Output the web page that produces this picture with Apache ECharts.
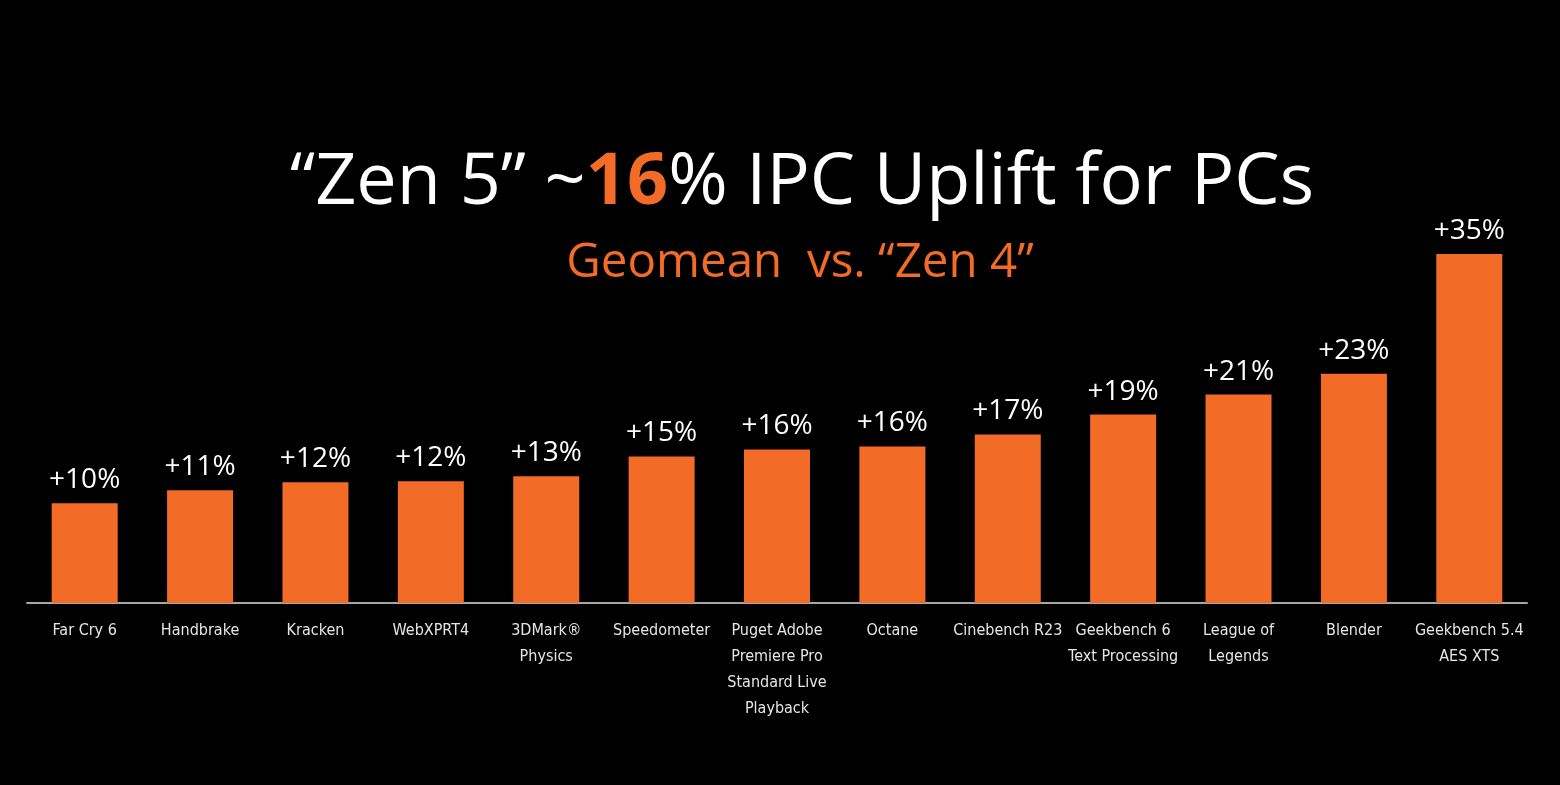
<!DOCTYPE html>
<html>
<head>
<meta charset="utf-8">
<style>
html,body{margin:0;padding:0;background:#000;}
#c{width:1560px;height:785px;}
</style>
<script src="https://cdn.jsdelivr.net/npm/echarts@6/dist/echarts.min.js"></script>
</head>
<body>
<div id="c"></div>
<script>
const categories = ['Far Cry 6','Handbrake','Kracken','WebXPRT4','3DMark®\nPhysics','Speedometer','Puget Adobe\nPremiere Pro\nStandard Live\nPlayback','Octane','Cinebench R23','Geekbench 6\nText Processing','League of\nLegends','Blender','Geekbench 5.4\nAES XTS'];
const uplift = [10, 11.3, 12.1, 12.2, 12.7, 14.7, 15.4, 15.7, 16.9, 18.9, 20.9, 23, 35];
const valueLabels = ['+10%','+11%','+12%','+12%','+13%','+15%','+16%','+16%','+17%','+19%','+21%','+23%','+35%'];

const chart = echarts.init(document.getElementById('c'));
chart.setOption({
  backgroundColor: '#000',
  animation: false,
  title: [{
    left: 797, top: 142, textAlign: 'center',
    text: '{w|“Zen 5” ~}{o|16}{w|% IPC Uplift for PCs}',
    textStyle: {
      rich: {
        w: {color: '#ffffff', fontSize: 72, fontFamily: 'Open Sans', fontWeight: 'normal'},
        o: {color: '#F26B27', fontSize: 72, fontFamily: 'Open Sans', fontWeight: 'bold'}
      }
    }
  }, {
    left: 795, top: 234, textAlign: 'center',
    text: 'Geomean  vs. “Zen 4”',
    textStyle: {color: '#F26B27', fontSize: 47.5, fontFamily: 'Open Sans', fontWeight: 'normal'}
  }],
  grid: {left: 27, right: 33, top: 254, bottom: 182, containLabel: false},
  xAxis: {
    type: 'category',
    data: categories,
    axisTick: {show: false},
    axisLine: {lineStyle: {color: '#a6a6a6', width: 2}},
    axisLabel: {color: '#e6e6e6', fontSize: 16, fontFamily: '"Liberation Sans Narrow", "DejaVu Sans Condensed", "Roboto Condensed", Roboto, sans-serif', lineHeight: 26, margin: 15, interval: 0}
  },
  yAxis: {type: 'value', min: 0, max: 35, show: false, splitLine: {show: false}},
  series: [{
    type: 'bar',
    data: uplift,
    barWidth: 66,
    itemStyle: {color: '#F26B27'},
    label: {
      show: true, position: 'top', distance: 9,
      color: '#ffffff', fontSize: 28, fontFamily: 'Open Sans',
      formatter: p => valueLabels[p.dataIndex]
    }
  }]
});
</script>
</body>
</html>
